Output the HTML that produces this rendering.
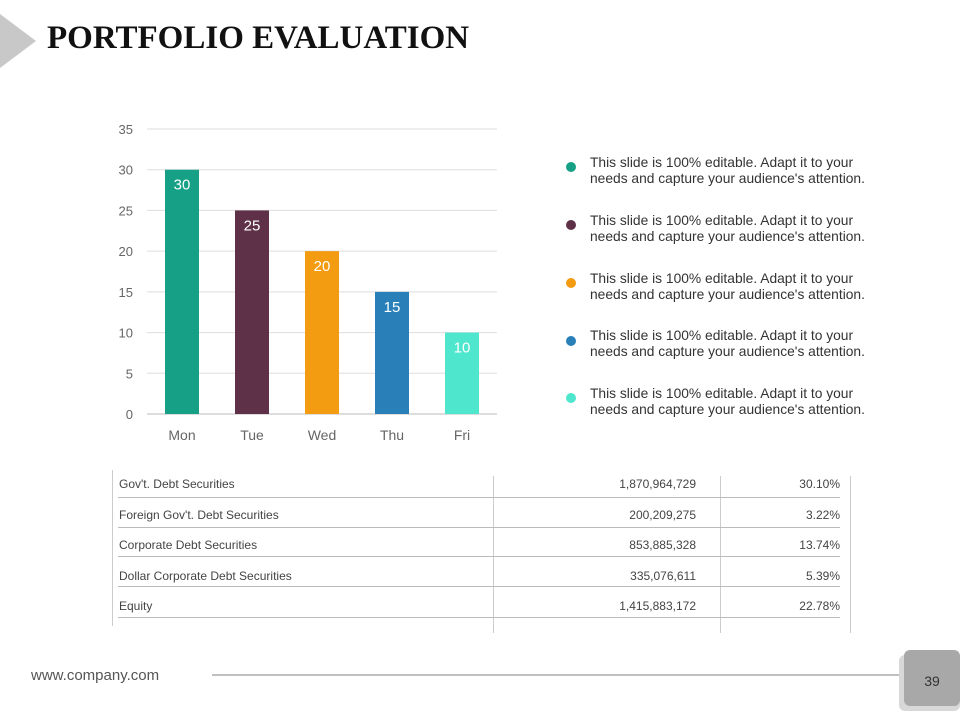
<!DOCTYPE html>
<html><head><meta charset="utf-8"><style>
body{margin:0;width:960px;height:720px;background:#fff;position:relative;overflow:hidden;font-family:"Liberation Sans",sans-serif}
.abs{position:absolute}
.leg{position:absolute;left:590px;font-size:13.8px;color:#333;line-height:16px}
.dot{position:absolute;left:566px;width:10px;height:10px;border-radius:50%}
.cell{position:absolute;font-size:12px;color:#444}
.hl{position:absolute;height:1px;background:#bbb;left:118px;width:722px}
.vl{position:absolute;width:1px;background:#ccc}
</style></head><body>
<div class="abs" style="left:0;top:14px;width:0;height:0;border-top:27px solid transparent;border-bottom:27px solid transparent;border-left:36px solid #c8c8c8"></div>
<div class="abs" style="left:47px;top:20px;font-family:'Liberation Serif',serif;font-weight:bold;font-size:33px;color:#111">PORTFOLIO EVALUATION</div>

<svg class="abs" style="left:0;top:0" width="520" height="460" id="chart"></svg>

<div class="dot" style="top:162px;background:#16A085"></div>
<div class="leg" style="top:155px">This slide is 100% editable. Adapt it to your<br>needs and capture your audience's attention.</div>
<div class="dot" style="top:220px;background:#5F3148"></div>
<div class="leg" style="top:213px">This slide is 100% editable. Adapt it to your<br>needs and capture your audience's attention.</div>
<div class="dot" style="top:278px;background:#F39C12"></div>
<div class="leg" style="top:271px">This slide is 100% editable. Adapt it to your<br>needs and capture your audience's attention.</div>
<div class="dot" style="top:336px;background:#2980B9"></div>
<div class="leg" style="top:328px">This slide is 100% editable. Adapt it to your<br>needs and capture your audience's attention.</div>
<div class="dot" style="top:393px;background:#4EE6CC"></div>
<div class="leg" style="top:386px">This slide is 100% editable. Adapt it to your<br>needs and capture your audience's attention.</div>

<div>
<div class="vl" style="left:112px;top:470px;height:156px"></div>
<div class="vl" style="left:493px;top:476px;height:157px"></div>
<div class="vl" style="left:720px;top:476px;height:157px"></div>
<div class="vl" style="left:850px;top:476px;height:157px"></div>
<div class="hl" style="top:497px"></div><div class="hl" style="top:527px"></div><div class="hl" style="top:556px"></div><div class="hl" style="top:586px"></div><div class="hl" style="top:617px"></div>
<div id="rows"></div>
</div>

<div class="abs" style="left:31px;top:667px;font-size:15px;color:#555">www.company.com</div>
<div class="abs" style="left:212px;top:674px;width:690px;height:2px;background:#c0c0c0"></div>
<div class="abs" style="left:899px;top:655px;width:61px;height:56px;background:#d8d8d8;border-radius:6px"></div>
<div class="abs" style="left:904px;top:650px;width:56px;height:56px;background:#a8a8a8;border-radius:6px;font-size:14px;color:#333;text-align:center;line-height:62px">39</div>

<script>
const categories=["Mon","Tue","Wed","Thu","Fri"];
const values=[30,25,20,15,10];
const colors=["#16A085","#5F3148","#F39C12","#2980B9","#4EE6CC"];
const ticks=[0,5,10,15,20,25,30,35];
const rowLabels=["Gov't. Debt Securities","Foreign Gov't. Debt Securities","Corporate Debt Securities","Dollar Corporate Debt Securities","Equity"];
const rowAmounts=["1,870,964,729","200,209,275","853,885,328","335,076,611","1,415,883,172"];
const rowPcts=["30.10%","3.22%","13.74%","5.39%","22.78%"];

const NS="http://www.w3.org/2000/svg";
const svg=document.getElementById('chart');
const x0=147,x1=497,yTop=129,yBot=414,yMax=35;
const band=(x1-x0)/categories.length;
const y=v=>yBot-(v/yMax)*(yBot-yTop);
const xc=i=>x0+band*(i+0.5);
function mk(t,a){const e=document.createElementNS(NS,t);for(const k in a)e.setAttribute(k,a[k]);svg.appendChild(e);return e;}
ticks.forEach(t=>{
  const l=mk('line',{x1:x0,x2:x1,y1:y(t),y2:y(t),stroke:t===0?'#bbb':'#ddd','stroke-width':1});
  
  
  const tx=mk('text',{x:133,y:y(t)+5,'text-anchor':'end','font-size':13,fill:'#666','font-family':'Liberation Sans, sans-serif'});
  tx.textContent=t;
  
  
});
categories.forEach((c,i)=>{
  const bw=34;
  const r=mk('rect',{x:xc(i)-bw/2,y:y(values[i]),width:bw,height:yBot-y(values[i]),fill:colors[i]});
  
  
  const v=mk('text',{x:xc(i),y:y(values[i])+20,'text-anchor':'middle','font-size':15,fill:'#fff','font-family':'Liberation Sans, sans-serif'});
  v.textContent=values[i];
  
  
  const cl=mk('text',{x:xc(i),y:440,'text-anchor':'middle','font-size':14,fill:'#666','font-family':'Liberation Sans, sans-serif'});
  cl.textContent=c;
  
  
});
const rows=document.getElementById('rows');
const rowY=[477,508,538,569,599];
rowLabels.forEach((lab,i)=>{
  [[lab,'left:119px'],[rowAmounts[i],'right:264px'],[rowPcts[i],'right:120px']].forEach((p,j)=>{
    const d=document.createElement('div');
    d.className='cell';d.style.cssText=p[1]+';top:'+rowY[i]+'px';d.textContent=p[0];
    
    
    rows.appendChild(d);
  });
});
</script>
</body></html>
